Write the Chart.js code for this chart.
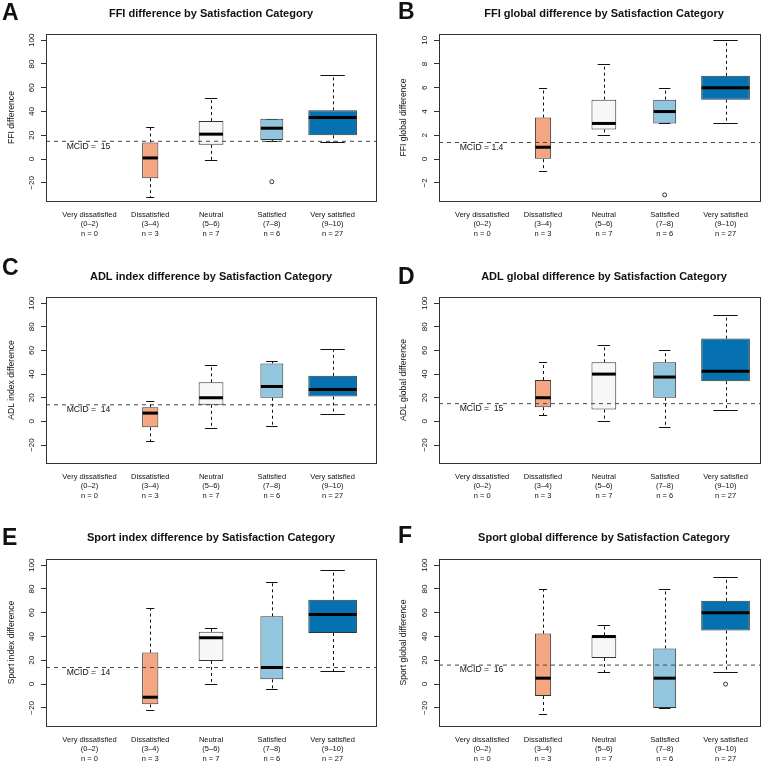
<!DOCTYPE html>
<html><head><meta charset="utf-8">
<script src="https://cdn.jsdelivr.net/npm/chart.js@4/dist/chart.umd.min.js"></script>
<style>
html,body{margin:0;padding:0;background:#fff;}
#wrap{position:relative;width:771px;height:762px;overflow:hidden;background:#fff;}
#wrap canvas{position:absolute;}
</style></head><body><div id="wrap"></div>
<script>
// ---------- data ----------
const catNames  = ["Very dissatisfied", "Dissatisfied", "Neutral", "Satisfied", "Very satisfied"];
const catRanges = ["(0\u20132)", "(3\u20134)", "(5\u20136)", "(7\u20138)", "(9\u201310)"];
const catN      = [0, 3, 7, 6, 27];
const boxColors = ["#FFFFFF", "#F4A582", "#F7F7F7", "#92C5DE", "#0571B0"];

// per category: [lower whisker, Q1, median, Q3, upper whisker]; null = no patients
const ffiIndexBox    = [null, [-32, -16, 1, 14, 27], [-1, 12, 21, 32, 51], [15, 16, 26, 34, 34], [14, 20, 35, 41, 71]];
const ffiIndexOut    = [[4, -19]];
const ffiGlobalBox   = [null, [-1, 0, 1, 3.5, 6], [2, 2.5, 3, 5, 8], [3, 3, 4, 5, 6], [3, 5, 6, 7, 10]];
const ffiGlobalOut   = [[4, -3]];
const adlIndexBox    = [null, [-17, -5, 7, 12, 17], [-6, 14, 20, 33, 48], [-4, 20, 29.5, 49, 51], [6, 21, 27, 38.5, 61]];
const adlIndexOut    = [];
const adlGlobalBox   = [null, [5, 12, 20, 35, 50], [0, 10, 40, 50, 65], [-5, 20, 37.5, 50, 60], [10, 34, 42.5, 70, 90]];
const adlGlobalOut   = [];
const sportIndexBox  = [null, [-22, -17, -11, 26.5, 64], [0, 19.5, 39, 44, 47], [-4, 4, 14, 57, 86], [11, 43, 58.5, 71, 96]];
const sportIndexOut  = [];
const sportGlobalBox = [null, [-25, -10, 5, 42.5, 80], [10, 22, 40, 41, 50], [-20, -20, 5, 30, 80], [10, 45, 60, 70, 90]];
const sportGlobalOut = [[5, 0]];

const mcidValues  = [15, 1.4, 14, 15, 14, 16];
const mcidLabels  = ["MCID =  15", "MCID = 1.4", "MCID =  14", "MCID =  15", "MCID =  14", "MCID =  16"];
const panelLetters = ["A", "B", "C", "D", "E", "F"];
const panelTitles = [
  "FFI difference by Satisfaction Category",
  "FFI global difference by Satisfaction Category",
  "ADL index difference by Satisfaction Category",
  "ADL global difference by Satisfaction Category",
  "Sport index difference by Satisfaction Category",
  "Sport global difference by Satisfaction Category"
];
const yTitles = [
  "FFI difference", "FFI global difference",
  "ADL index difference", "ADL global difference",
  "Sport index difference", "Sport global difference"
];
const pctTicks    = [-20, 0, 20, 40, 60, 80, 100];
const pctLim      = [-30, 100];
const globalTicks = [-2, 0, 2, 4, 6, 8, 10];
const globalLim   = [-3, 10];

// ---------- layout ----------
const FONT = "'Liberation Sans', Arial, Helvetica, sans-serif";
Chart.defaults.font.family = FONT;
Chart.defaults.color = "#111";

const colX = [0, 385], colW = [385, 386];
const rowY = [0, 254, 508], rowH = 254;
const frameLR = [[46, 377], [54, 376]];
const frameTB = [[34, 201], [43, 209], [51, 218]];
const xLims = [[0.285, 5.73], [0.29, 5.583]];
const titleCX = [211, 219];
const titleCY = [14.3, 22.7, 30];
const letterX = [2, 13];
const letterBase = [[20, 19], [21, 30], [37, 35]];
const yTitleX = [12, 18.5];
const yTickX = [32, 39.5];

const panels = [
  {box: ffiIndexBox,   out: ffiIndexOut,   ticks: pctTicks,    lim: pctLim},
  {box: ffiGlobalBox,  out: ffiGlobalOut,  ticks: globalTicks, lim: globalLim},
  {box: adlIndexBox,   out: adlIndexOut,   ticks: pctTicks,    lim: pctLim},
  {box: adlGlobalBox,  out: adlGlobalOut,  ticks: pctTicks,    lim: pctLim},
  {box: sportIndexBox, out: sportIndexOut, ticks: pctTicks,    lim: pctLim},
  {box: sportGlobalBox,out: sportGlobalOut,ticks: pctTicks,    lim: pctLim}
];

const maxN = Math.max(...catN);

function boxEls(chart) {
  const res = [];
  chart.data.datasets.forEach((ds, d) => {
    if (ds.statIndex === undefined) return;
    const el = chart.getDatasetMeta(d).data[0];
    if (el) res.push({el, s: ds.stats});
  });
  return res;
}

function makePlugin(k) {
  const col = k % 2, row = Math.floor(k / 2);
  return {
    id: "decor" + k,
    beforeDatasetsDraw(chart) {
      const ctx = chart.ctx, ys = chart.scales.y;
      ctx.save();
      ctx.strokeStyle = "#111";
      ctx.lineWidth = 1;
      boxEls(chart).forEach(({el, s}) => {
        const x = Math.round(el.x) + 0.5, w = el.width;
        ctx.setLineDash([3, 3]);
        ctx.beginPath();
        ctx.moveTo(x, ys.getPixelForValue(s[3])); ctx.lineTo(x, ys.getPixelForValue(s[4]));
        ctx.moveTo(x, ys.getPixelForValue(s[1])); ctx.lineTo(x, ys.getPixelForValue(s[0]));
        ctx.stroke();
        ctx.setLineDash([]);
        ctx.beginPath();
        [s[0], s[4]].forEach(v => {
          const y = Math.round(ys.getPixelForValue(v)) + 0.5;
          ctx.moveTo(el.x - w / 4, y); ctx.lineTo(el.x + w / 4, y);
        });
        ctx.stroke();
      });
      ctx.restore();
    },
    afterDatasetsDraw(chart) {
      const ctx = chart.ctx, ys = chart.scales.y;
      ctx.save();
      ctx.strokeStyle = "#000";
      ctx.lineWidth = 3;
      boxEls(chart).forEach(({el, s}) => {
        const y = ys.getPixelForValue(s[2]);
        ctx.beginPath();
        ctx.moveTo(el.x - el.width / 2 + 0.5, y); ctx.lineTo(el.x + el.width / 2 - 0.5, y);
        ctx.stroke();
      });
      ctx.restore();
    },
    afterDraw(chart) {
      const ctx = chart.ctx, ca = chart.chartArea, ys = chart.scales.y;
      ctx.save();
      // frame
      ctx.strokeStyle = "#333";
      ctx.lineWidth = 1;
      ctx.strokeRect(Math.round(ca.left) + 0.5, Math.round(ca.top) + 0.5,
                     Math.round(ca.right - ca.left) - 1, Math.round(ca.bottom - ca.top));
      ctx.fillStyle = "#111";
      // panel letter
      ctx.font = "bold 23px " + FONT;
      ctx.textAlign = "left"; ctx.textBaseline = "alphabetic";
      ctx.fillText(panelLetters[k], letterX[col], letterBase[row][col]);
      // title
      ctx.font = "bold 11px " + FONT;
      ctx.textAlign = "center"; ctx.textBaseline = "middle";
      ctx.fillText(panelTitles[k], titleCX[col], titleCY[row]);
      // y tick labels (rotated)
      ctx.font = "8px " + FONT;
      panels[k].ticks.forEach(v => {
        const y = ys.getPixelForValue(v);
        ctx.save();
        ctx.translate(yTickX[col], y);
        ctx.rotate(-Math.PI / 2);
        ctx.textAlign = "center"; ctx.textBaseline = "middle";
        ctx.fillText(String(v).replace("-", "\u2212"), 0, 0);
        ctx.restore();
      });
      // y title
      ctx.font = "8.6px " + FONT;
      ctx.save();
      ctx.translate(yTitleX[col], (ca.top + ca.bottom) / 2);
      ctx.rotate(-Math.PI / 2);
      ctx.textAlign = "center"; ctx.textBaseline = "middle";
      ctx.fillText(yTitles[k], 0, 0);
      ctx.restore();
      // MCID label
      ctx.textAlign = "left"; ctx.textBaseline = "middle";
      ctx.fillText(mcidLabels[k], ca.left + 20.7, ys.getPixelForValue(mcidValues[k]) + 5);
      ctx.restore();
    }
  };
}

const wrap = document.getElementById("wrap");
panels.forEach((p, k) => {
  const col = k % 2, row = Math.floor(k / 2);
  const W = colW[col], H = rowH;
  const fl = frameLR[col][0], fr = frameLR[col][1];
  const ft = frameTB[row][0], fb = frameTB[row][1];
  const cv = document.createElement("canvas");
  cv.width = W; cv.height = H;
  cv.style.left = colX[col] + "px"; cv.style.top = rowY[row] + "px";
  cv.style.width = W + "px"; cv.style.height = H + "px";
  wrap.appendChild(cv);

  const ext = 0.04 * (p.lim[1] - p.lim[0]);
  const datasets = [];
  p.box.forEach((s, i) => {
    if (!s) return;
    datasets.push({
      type: "bar",
      statIndex: i,
      stats: s,
      data: [{x: i + 1, y: [s[1], s[3]]}],
      backgroundColor: boxColors[i],
      borderColor: "#333",
      borderWidth: 1,
      borderSkipped: false,
      grouped: false,
      barPercentage: 0.8 * Math.sqrt(catN[i] / maxN),
      categoryPercentage: 1,
      order: 3
    });
  });
  datasets.push({
    type: "scatter",
    data: p.out.map(([c, v]) => ({x: c, y: v})),
    pointRadius: 2,
    pointBorderWidth: 1,
    borderColor: "#333",
    backgroundColor: "rgba(0,0,0,0)",
    order: 2
  });
  datasets.push({
    type: "line",
    data: [{x: xLims[col][0], y: mcidValues[k]}, {x: xLims[col][1], y: mcidValues[k]}],
    borderColor: "#444",
    borderWidth: 1,
    borderDash: [4, 4],
    pointRadius: 0,
    fill: false,
    order: 1
  });

  new Chart(cv, {
    type: "bar",
    data: {datasets},
    options: {
      responsive: false,
      animation: false,
      events: [],
      layout: {padding: {left: 0, top: ft, right: W - fr, bottom: 0}},
      plugins: {legend: {display: false}, title: {display: false}, tooltip: {enabled: false}},
      scales: {
        x: {
          type: "linear", min: xLims[col][0], max: xLims[col][1], offset: false,
          afterBuildTicks: s => { s.ticks = [1, 2, 3, 4, 5].map(v => ({value: v})); },
          afterFit: s => { s.height = H - fb; },
          grid: {display: false, drawTicks: false},
          border: {display: false},
          ticks: {
            autoSkip: false, maxRotation: 0, minRotation: 0, padding: 9, color: "#111",
            font: {size: 7.5, lineHeight: 1.25},
            callback: v => [catNames[v - 1], catRanges[v - 1], "n = " + catN[v - 1]]
          }
        },
        y: {
          type: "linear", min: p.lim[0] - ext, max: p.lim[1] + ext,
          afterBuildTicks: s => { s.ticks = p.ticks.map(v => ({value: v})); },
          afterFit: s => { s.width = fl; },
          grid: {display: true, drawOnChartArea: false, drawTicks: true, tickLength: 5, tickColor: "#333", lineWidth: 1},
          border: {display: false},
          ticks: {display: false}
        }
      }
    },
    plugins: [makePlugin(k)]
  });
});
</script>
</body></html>
